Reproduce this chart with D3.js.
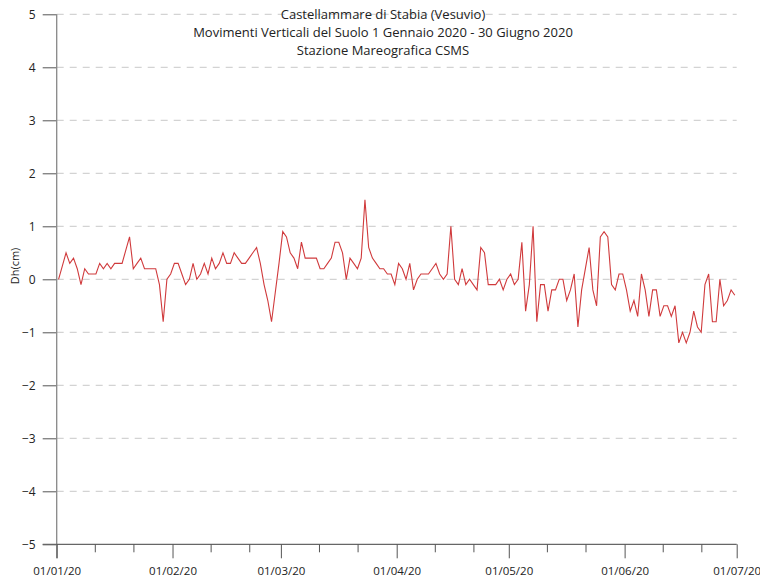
<!DOCTYPE html>
<html><head><meta charset="utf-8">
<script src="https://cdn.jsdelivr.net/npm/d3@7"></script>
<style>body{margin:0;background:#fff}</style>
</head><body>
<svg id="c" width="760" height="583"></svg>
<script>
const titleLines = ["Castellammare di Stabia (Vesuvio)","Movimenti Verticali del Suolo 1 Gennaio 2020 - 30 Giugno 2020","Stazione Mareografica CSMS"];
const yLabel = "Dh(cm)";
const startDate = "2020-01-01";
const endDate = "2020-07-01";
const yTicks = [-5,-4,-3,-2,-1,0,1,2,3,4,5];
// daily vertical displacement (cm), 1 Jan 2020 .. 30 Jun 2020
const dh = [
 0,0.25,0.5,0.3,0.4,0.2,-0.1,0.2,0.1,0.1,0.1,0.3,0.2,0.3,0.2,0.3,0.3,0.3,0.55,0.8,
 0.2,0.3,0.4,0.2,0.2,0.2,0.2,-0.1,-0.8,0.0,0.1,
 0.3,0.3,0.1,-0.1,0.0,0.3,0.0,0.1,0.3,0.1,0.4,0.2,0.3,0.5,0.3,0.3,0.5,0.4,0.3,0.3,
 0.4,0.5,0.6,0.3,-0.1,-0.4,-0.8,-0.25,0.3,
 0.9,0.8,0.5,0.4,0.2,0.7,0.4,0.4,0.4,0.4,0.2,0.2,0.3,0.4,0.7,0.7,0.5,0.0,0.4,0.3,
 0.2,0.4,1.5,0.6,0.4,0.3,0.2,0.2,0.1,0.1,-0.1,
 0.3,0.2,0.0,0.3,-0.2,0.0,0.1,0.1,0.1,0.2,0.3,0.1,0.0,0.1,1.0,0.0,-0.1,0.2,-0.1,0.0,
 -0.1,-0.2,0.6,0.5,-0.1,-0.1,-0.1,0.0,-0.2,0.0,
 0.1,-0.1,0.0,0.7,-0.6,-0.1,1.0,-0.8,-0.1,-0.1,-0.6,-0.2,-0.2,0.0,0.0,-0.4,-0.2,0.1,
 -0.9,-0.2,0.2,0.6,-0.2,-0.5,0.8,0.9,0.8,-0.1,-0.2,0.1,0.1,
 -0.2,-0.6,-0.4,-0.7,0.1,-0.2,-0.7,-0.2,-0.2,-0.7,-0.5,-0.5,-0.7,-0.5,-1.2,-1.0,-1.2,
 -1.0,-0.6,-0.9,-1.0,-0.1,0.1,-0.8,-0.8,0.0,-0.5,-0.4,-0.2,-0.3
];

const parse = d3.utcParse("%Y-%m-%d");
const t0 = parse(startDate), t1 = parse(endDate);
const days = d3.utcDay.range(t0, t1);
const data = days.map((d,i)=>({date: d3.utcHour.offset(d,12), v: dh[i]}));

const svg = d3.select("#c");
const L = 56.7, R = 736.7, T = 14.3, B = 544.3;
const x = d3.scaleUtc().domain([t0,t1]).range([L,R]);
const y = d3.scaleLinear().domain([-5,5]).range([B,T]);
const font = "'Open Sans', sans-serif";

// gridlines
svg.append("g").selectAll("line").data(yTicks.filter(v=>v>-5)).join("line")
  .attr("x1",L).attr("x2",R).attr("y1",d=>y(d)).attr("y2",d=>y(d))
  .attr("stroke","#c8c8c8").attr("stroke-width",1).attr("stroke-dasharray","7,6");

// y axis
const ya = svg.append("g").attr("transform",`translate(${L},0)`)
  .call(d3.axisLeft(y).tickValues(yTicks).tickSize(14).tickPadding(7).tickFormat(d3.format("d")));
ya.select(".domain").remove();
ya.selectAll(".tick line").attr("stroke","#555");
ya.selectAll("text").attr("font-family",font).attr("font-size",12).attr("fill","#222");
svg.append("line").attr("x1",L).attr("x2",L).attr("y1",T).attr("y2",B+14)
  .attr("stroke","#888").attr("stroke-width",1.3);

// x axis
const months = d3.utcMonth.range(t0, d3.utcDay.offset(t1,1));
const minor = [];
d3.utcMonth.range(t0,t1).forEach(m=>{ [1,2].forEach(k=>minor.push(new Date(+m + k*31/3*864e5))); });
const xa = svg.append("g").attr("transform",`translate(0,${B})`);
xa.append("line").attr("x1",L-14).attr("x2",R).attr("stroke","#666").attr("stroke-width",1.2);
xa.call(g=>g.append("g").call(d3.axisBottom(x).tickValues(months).tickSize(14).tickPadding(9)
   .tickFormat(d3.utcFormat("%d/%m/%y"))).call(a=>{a.select(".domain").remove();
     a.selectAll("line").attr("stroke","#555");
     a.selectAll("text").attr("font-family",font).attr("font-size",11.5).attr("fill","#222");}));
xa.append("g").selectAll("line").data(minor).join("line")
  .attr("x1",d=>x(d)).attr("x2",d=>x(d)).attr("y1",0).attr("y2",8).attr("stroke","#555");

// line
svg.append("path").datum(data)
  .attr("d", d3.line().x(d=>x(d.date)).y(d=>y(d.v)))
  .attr("fill","none").attr("stroke","#d03a3c").attr("stroke-width",1.1);

// title
svg.append("g").selectAll("text").data(titleLines).join("text")
  .attr("x",383).attr("y",(d,i)=>19+i*18).attr("text-anchor","middle")
  .attr("font-family",font).attr("font-size",13).attr("fill","#222").text(d=>d);

// y label
svg.append("text").attr("transform","translate(19,266) rotate(-90)")
  .attr("text-anchor","middle").attr("font-family",font).attr("font-size",11).attr("fill","#222")
  .text(yLabel);
</script>
</body></html>
